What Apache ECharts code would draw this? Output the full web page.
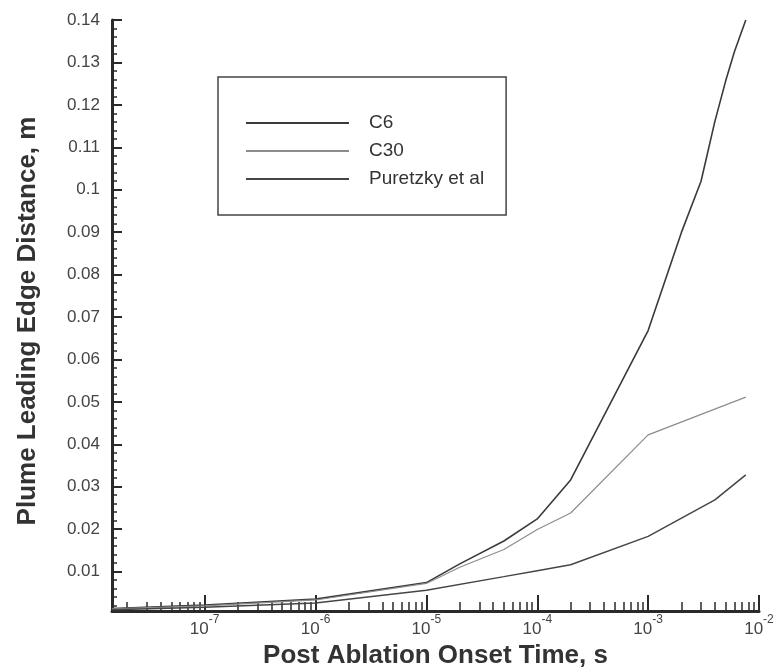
<!DOCTYPE html>
<html>
<head>
<meta charset="utf-8">
<script src="https://cdn.jsdelivr.net/npm/echarts@6/dist/echarts.min.js"></script>
<style>
  html, body { margin: 0; padding: 0; background: #fff; }
  #chart { width: 780px; height: 669px; }
</style>
</head>
<body>
<div id="chart"></div>
<script>
// values (time in s, distance in m)
var timeC6 = [1.46e-8, 1e-7, 1e-6, 1e-5, 2e-5, 5e-5, 1e-4, 2e-4, 1e-3, 2e-3, 3e-3, 4e-3, 5e-3, 6e-3, 7.6e-3];
var distC6 = [0.0013, 0.0021, 0.0035, 0.0074, 0.0118, 0.0172, 0.0224, 0.0316, 0.0668, 0.0900, 0.1020, 0.1161, 0.1256, 0.1325, 0.1400];

var timeC30 = [1.46e-8, 1e-7, 1e-6, 1e-5, 2e-5, 5e-5, 1e-4, 2e-4, 1e-3, 7.6e-3];
var distC30 = [0.0012, 0.0019, 0.0033, 0.0072, 0.0110, 0.0152, 0.0199, 0.0238, 0.0422, 0.0511];

var timePur = [1.46e-8, 1e-7, 1e-6, 1e-5, 5e-5, 1e-4, 2e-4, 1e-3, 4e-3, 7.6e-3];
var distPur = [0.0010, 0.0016, 0.0026, 0.0056, 0.0088, 0.0102, 0.0116, 0.0183, 0.0269, 0.0328];

var seriesNames = ['C6', 'C30', 'Puretzky et al'];

var xMajorTicks = [1e-7, 1e-6, 1e-5, 1e-4, 1e-3, 1e-2];
var yMajorTicks = [0.01, 0.02, 0.03, 0.04, 0.05, 0.06, 0.07, 0.08, 0.09, 0.1, 0.11, 0.12, 0.13, 0.14];

// minor ticks: 2..9 per decade on x, every 0.002 on y
var xMinorTicks = [];
for (var e = -8; e <= -3; e++) {
    for (var m = 2; m <= 9; m++) {
        var v = m * Math.pow(10, e);
        if (v > 1.46e-8 && v < 1e-2) xMinorTicks.push(Number(v.toPrecision(3)));
    }
}
var yMinorTicks = [];
for (var k = 1; k <= 70; k++) {
    if (k % 5 !== 0) yMinorTicks.push(Number((k * 0.002).toFixed(3)));
}

function pairs(xs, ys) {
    return xs.map(function (x, i) { return [x, ys[i]]; });
}

var font = 'Liberation Sans, Arial, sans-serif';
var axisColor = '#2a2a2a';

var myChart = echarts.init(document.getElementById('chart'));
var option = {
    backgroundColor: '#fff',
    animation: false,
    grid: { left: 112, right: 21, top: 20, bottom: 58, containLabel: false, outerBoundsMode: 'none' },
    legend: {
        orient: 'vertical',
        left: 218,
        top: 77,
        padding: [36, 22, 26, 27],
        borderColor: '#444',
        borderWidth: 1.5,
        itemWidth: 103,
        itemHeight: 14,
        itemGap: 8,
        data: seriesNames,
        itemStyle: { opacity: 0 },
        textStyle: { fontFamily: font, fontSize: 19, color: '#333', lineHeight: 20, padding: [0, 0, 0, 15] }
    },
    xAxis: [{
        type: 'log',
        logBase: 10,
        min: 1.46e-8,
        max: 1e-2,
        name: 'Post Ablation Onset Time, s',
        nameLocation: 'middle',
        nameGap: 25,
        nameTextStyle: { fontFamily: font, fontSize: 26, fontWeight: 'bold', color: '#333' },
        axisLine: { show: true, lineStyle: { color: axisColor, width: 3 } },
        axisTick: { show: true, inside: true, length: 16, customValues: xMajorTicks, lineStyle: { color: axisColor, width: 2 } },
        axisLabel: {
            show: true,
            customValues: xMajorTicks,
            margin: 3,
            formatter: function (val) {
                return '{b|10}{s|' + Math.round(Math.log10(val)) + '}';
            },
            rich: {
                b: { fontFamily: font, fontSize: 17, color: '#444', lineHeight: 24, verticalAlign: 'bottom' },
                s: { fontFamily: font, fontSize: 12, color: '#444', lineHeight: 24, verticalAlign: 'top' }
            }
        },
        splitLine: { show: false },
        minorTick: { show: false }
    }, {
        type: 'log',
        logBase: 10,
        min: 1.46e-8,
        max: 1e-2,
        position: 'bottom',
        axisLine: { show: false },
        axisTick: { show: true, inside: true, length: 9, customValues: xMinorTicks, lineStyle: { color: axisColor, width: 1.5 } },
        axisLabel: { show: false },
        splitLine: { show: false }
    }],
    yAxis: [{
        type: 'value',
        min: 0.0007,
        max: 0.14,
        name: 'Plume Leading Edge Distance, m',
        nameLocation: 'middle',
        nameGap: 71,
        nameRotate: 90,
        nameTextStyle: { fontFamily: font, fontSize: 26, fontWeight: 'bold', color: '#333', padding: [0, 11, 0, 0] },
        axisLine: { show: true, lineStyle: { color: axisColor, width: 3 } },
        axisTick: { show: true, inside: true, length: 10, customValues: yMajorTicks, lineStyle: { color: axisColor, width: 2 } },
        axisLabel: {
            show: true,
            customValues: yMajorTicks,
            margin: 12,
            fontFamily: font,
            fontSize: 17,
            color: '#444',
            formatter: function (val) { return String(Number(val.toFixed(2))); }
        },
        splitLine: { show: false }
    }, {
        type: 'value',
        min: 0.0007,
        max: 0.14,
        position: 'left',
        axisLine: { show: false },
        axisTick: { show: true, inside: true, length: 5, customValues: yMinorTicks, lineStyle: { color: axisColor, width: 1.5 } },
        axisLabel: { show: false },
        splitLine: { show: false }
    }],
    series: [{
        name: seriesNames[0],
        type: 'line',
        showSymbol: false,
        symbol: 'none',
        data: pairs(timeC6, distC6),
        lineStyle: { color: '#3a3a3a', width: 1.6 },
        itemStyle: { color: '#3a3a3a' }
    }, {
        name: seriesNames[1],
        type: 'line',
        showSymbol: false,
        symbol: 'none',
        data: pairs(timeC30, distC30),
        lineStyle: { color: '#8c8c8c', width: 1.2 },
        itemStyle: { color: '#8c8c8c' }
    }, {
        name: seriesNames[2],
        type: 'line',
        showSymbol: false,
        symbol: 'none',
        data: pairs(timePur, distPur),
        lineStyle: { color: '#454545', width: 1.5 },
        itemStyle: { color: '#454545' }
    }]
};
myChart.setOption(option, true);
</script>
</body>
</html>
